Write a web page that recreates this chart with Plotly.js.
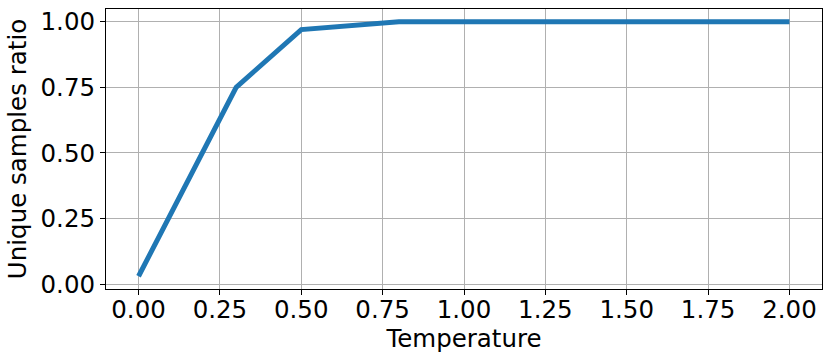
<!DOCTYPE html>
<html><head><meta charset="utf-8">
<script src="https://cdn.plot.ly/plotly-3.0.1.min.js"></script>
<style>html,body{margin:0;padding:0;background:#fff}#chart{width:831px;height:362px}</style>
</head><body><div id="chart"></div>
<script>
const temperature = [0.0, 0.1, 0.2, 0.3, 0.5, 0.8, 1.0, 1.5, 2.0];
const uniqueRatio = [0.03, 0.27, 0.51, 0.75, 0.97, 1.0, 1.0, 1.0, 1.0];
const xTicks = [0, 0.25, 0.5, 0.75, 1.0, 1.25, 1.5, 1.75, 2.0];
const yTicks = [0, 0.25, 0.5, 0.75, 1.0];

const font = {family: 'DejaVu Sans', size: 24.5, color: '#000'};
Plotly.newPlot('chart', [{
  x: temperature, y: uniqueRatio, type: 'scatter', mode: 'lines',
  line: {color: '#1f77b4', width: 5}
}], {
  width: 831, height: 362,
  margin: {l: 106, r: 9, t: 9, b: 73},
  paper_bgcolor: '#fff', plot_bgcolor: '#fff',
  font: font,
  showlegend: false,
  xaxis: {
    range: [-0.1, 2.1], tickvals: xTicks, ticktext: xTicks.map(v => v.toFixed(2)),
    showgrid: true, gridcolor: '#b0b0b0', gridwidth: 1,
    showline: true, linecolor: '#000', linewidth: 1, mirror: true,
    ticks: 'outside', ticklen: 5, tickcolor: '#000', zeroline: false,
    ticklabelstandoff: -6,
    tickfont: font,
    title: {text: 'Temperature', font: font, standoff: 0}
  },
  yaxis: {
    range: [-0.0185, 1.0485], tickvals: yTicks, ticktext: yTicks.map(v => v.toFixed(2)),
    showgrid: true, gridcolor: '#b0b0b0', gridwidth: 1,
    showline: true, linecolor: '#000', linewidth: 1, mirror: true,
    ticks: 'outside', ticklen: 5, tickcolor: '#000', zeroline: false,
    tickfont: font,
    title: {text: 'Unique samples ratio', font: font, standoff: 6}
  }
}, {staticPlot: true, displayModeBar: false});
</script></body></html>
